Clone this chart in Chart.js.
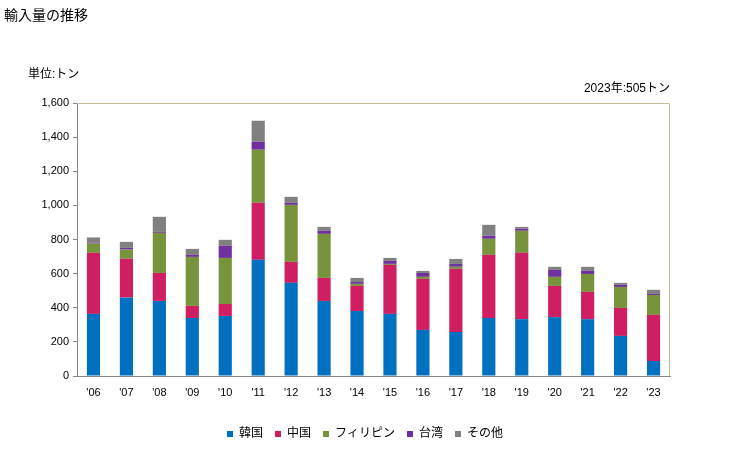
<!DOCTYPE html>
<html>
<head>
<meta charset="utf-8">
<script src="https://cdn.jsdelivr.net/npm/chart.js@4"></script>
<style>
  body { margin: 0; background: #fff; }
  #wrap { position: relative; width: 729px; height: 450px; font-family: "Liberation Sans", "Noto Sans CJK JP", sans-serif; }
  .txt { position: absolute; color: #000; white-space: nowrap; }
  #title { left: 4px; top: 4px; font-size: 14px; }
  #unit { left: 28px; top: 64px; font-size: 12px; }
  #note { right: 59px; top: 78px; font-size: 12px; }
</style>
</head>
<body>
<div id="wrap">
  <canvas id="c" width="729" height="450"></canvas>
  <div class="txt" id="title">輸入量の推移</div>
  <div class="txt" id="unit">単位:トン</div>
  <div class="txt" id="note">2023年:505トン</div>
</div>
<script>
// 年（ラベル）
const years = ["'06", "'07", "'08", "'09", "'10", "'11", "'12", "'13", "'14", "'15", "'16", "'17", "'18", "'19", "'20", "'21", "'22", "'23"];

// 国別輸入量（トン）
const korea       = [364, 460, 440, 340, 352, 681, 546, 440, 381, 364, 270, 258, 340, 333, 345, 333, 235, 88];
const china       = [358, 227, 164, 71, 70, 334, 123, 135, 147, 287, 299, 370, 370, 389, 183, 160, 164, 270];
const philippines = [54, 54, 235, 287, 270, 311, 334, 258, 12, 6, 12, 12, 94, 129, 53, 105, 123, 117];
const taiwan      = [6, 10, 6, 12, 71, 47, 12, 18, 11, 18, 23, 17, 18, 12, 41, 18, 12, 6];
const others      = [30, 35, 88, 35, 35, 123, 35, 23, 24, 17, 12, 29, 64, 11, 18, 24, 12, 24];

const yTicks = [0, 200, 400, 600, 800, 1000, 1200, 1400, 1600];

// 上と右の枠線
const frame = {
  id: 'frame',
  beforeDatasetsDraw(chart) {
    const a = chart.chartArea, ctx = chart.ctx;
    ctx.save();
    ctx.strokeStyle = '#c4bd97';
    ctx.lineWidth = 1;
    ctx.beginPath();
    ctx.moveTo(a.left, a.top + 0.5);
    ctx.lineTo(a.right - 0.5, a.top + 0.5);
    ctx.lineTo(a.right - 0.5, a.bottom);
    ctx.stroke();
    ctx.restore();
  }
};

// 凡例を少し右へ寄せる
const legendShift = {
  id: 'legendShift',
  afterLayout(chart) {
    chart.legend.left += 30;
    chart.legend.right += 30;
  }
};

const ds = (label, data, color) => ({
  label, data, backgroundColor: color, borderWidth: 0,
  barPercentage: 0.4, categoryPercentage: 1.0
});

new Chart(document.getElementById('c'), {
  type: 'bar',
  data: {
    labels: years,
    datasets: [
      ds('韓国', korea, '#0070c0'),
      ds('中国', china, '#d01e62'),
      ds('フィリピン', philippines, '#77933c'),
      ds('台湾', taiwan, '#7030a0'),
      ds('その他', others, '#808080')
    ]
  },
  options: {
    responsive: false,
    animation: false,
    layout: { padding: { left: 0, top: 103, right: 59, bottom: 0 } },
    plugins: {
      tooltip: { enabled: false },
      legend: {
        position: 'bottom',
        labels: {
          boxWidth: 6, boxHeight: 6, padding: 12, color: '#000',
          font: { size: 12, family: '"Liberation Sans", "Noto Sans CJK JP", sans-serif' }
        }
      }
    },
    scales: {
      x: {
        stacked: true,
        grid: { display: false },
        border: { color: '#868686', width: 1 },
        ticks: { color: '#000', font: { size: 11, family: '"Liberation Sans", sans-serif' }, padding: 2, maxRotation: 0 },
        afterFit(s) { s.height = 40; }
      },
      y: {
        stacked: true,
        min: 0, max: 1600,
        afterBuildTicks(s) { s.ticks = yTicks.map(v => ({ value: v })); },
        grid: { drawOnChartArea: false, tickLength: 4, color: '#868686' },
        border: { color: '#868686', width: 1 },
        ticks: {
          color: '#000', padding: 4,
          font: { size: 11, family: '"Liberation Sans", sans-serif' },
          callback: v => v.toLocaleString('en-US')
        },
        afterFit(s) { s.width = 77; }
      }
    }
  },
  plugins: [frame, legendShift]
});
</script>
</body>
</html>
